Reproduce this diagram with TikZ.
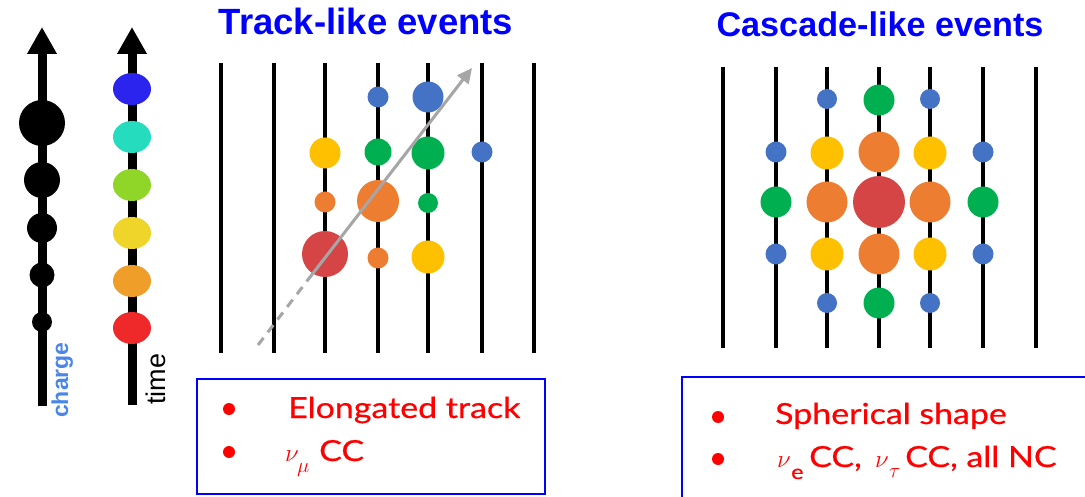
\documentclass[tikz,border=0pt]{standalone}
\usepackage{fontspec}
\setmainfont{Liberation Sans}
\newfontfamily\boxfont[FakeStretch=1.17,FakeBold=0.6]{Lato}
\usetikzlibrary{arrows.meta,shapes.geometric}
\definecolor{cblue}{HTML}{4472C4}
\definecolor{cyel}{HTML}{FFC000}
\definecolor{cgreen}{HTML}{00B050}
\definecolor{corange}{HTML}{ED7D31}
\definecolor{cred}{HTML}{D64545}
\definecolor{tblue}{HTML}{2B24EE}
\definecolor{tcyan}{HTML}{26DCBF}
\definecolor{tgreen}{HTML}{8FD629}
\definecolor{tyel}{HTML}{EFD429}
\definecolor{torange}{HTML}{EF9E2A}
\definecolor{tred}{HTML}{EF2929}
\definecolor{chargeblue}{HTML}{4A86E8}
\definecolor{gline}{HTML}{A6A6A6}
\definecolor{titleblue}{HTML}{0000FF}
\definecolor{txtred}{HTML}{FF0000}
\tikzset{
  dot/.style={circle,inner sep=0pt,outer sep=0pt,draw=none},
  tdot/.style={ellipse,inner sep=0pt,draw=none,minimum width=38pt,minimum height=32pt},
  string/.style={line width=4pt,black},
  axis/.style={line width=9pt,black,-{Triangle[width=28pt,length=27pt]}},
  grayline/.style={line width=3pt,gline},
  title/.style={text=titleblue,font=\bfseries},
  infobox/.style={draw=titleblue,line width=1.6pt},
  bullet/.style={circle,fill=txtred,inner sep=0pt,minimum size=12pt},
  boxtxt/.style={anchor=base west,text=txtred,inner sep=0pt,font=\boxfont\fontsize{29}{32}\selectfont},
  nutxt/.style={anchor=base west,text=txtred,inner sep=0pt,font=\fontsize{29}{32}\selectfont},
  subtxt/.style={anchor=base west,text=txtred,inner sep=0pt,font=\fontsize{20}{22}\selectfont},
}
\begin{document}
\begin{tikzpicture}[x=1pt,y=-1pt]
\useasboundingbox (0,0) rectangle (1085,497);
\clip (0,0) rectangle (1085,497);

% ---------- legend: charge ----------
\coordinate (cbot) at (42,406);
\coordinate (ctop) at (42,27);
\draw[axis] (cbot) -- (ctop);
\foreach \n/\y/\d in {c1/123/46, c2/180/36, c3/228/30, c4/275/25, c5/322/20}
  \node[dot,fill=black,minimum size=\d] (\n) at (42,\y) {};
\node[rotate=90,anchor=base west,inner sep=0pt,text=chargeblue,font=\bfseries\fontsize{23}{26}\selectfont] (chargelbl) at (68,418) {charge};

% ---------- legend: time ----------
\coordinate (tbot) at (132,405);
\coordinate (ttop) at (132,27);
\draw[axis] (tbot) -- (ttop);
\foreach \n/\y/\c in {e1/89/tblue, e2/137/tcyan, e3/185/tgreen, e4/233/tyel, e5/281/torange, e6/328/tred}
  \node[tdot,fill=\c] (\n) at (132,\y) {};
\node[rotate=90,anchor=base west,inner sep=0pt,text=black,font=\fontsize{27}{30}\selectfont] (timelbl) at (165,405) {time};

% ---------- Track-like events ----------
\node[title,font=\bfseries\fontsize{36.5}{40}\selectfont,anchor=base] (ttitle) at (366,35) {Track-like events};
\foreach \x in {221,274,325,378,428,482,534}
  \draw[string] (\x,63) -- (\x,353);
\foreach \n/\x/\y/\d/\c in {
  a1/378/97/21/cblue, a2/428/97/31/cblue,
  a3/325/153/31/cyel, a4/378/152/27/cgreen, a5/428/153/33/cgreen, a6/482/152/21/cblue,
  a7/325/202/21/corange, a8/378/201/42/corange, a9/428/203/20/cgreen,
  a10/325/254/46/cred, a11/378/258/21/corange, a12/428/257/33/cyel}
  \node[dot,fill=\c,minimum size=\d] (\n) at (\x,\y) {};
\coordinate (g0) at (258,345);
\coordinate (g1) at (307,281);
\coordinate (g2) at (472,68);
\draw[grayline,dash pattern=on 9pt off 7pt] (g0) -- (g1);
\draw[grayline,-{Triangle[width=14pt,length=15pt]}] (g1) -- (g2);

% ---------- Cascade-like events ----------
\node[title,font=\bfseries\fontsize{34.2}{38}\selectfont,anchor=base] (ctitle) at (880,37) {Cascade-like events};
\foreach \x in {723,776,827,879,930,983,1036}
  \draw[string] (\x,67) -- (\x,348);
\foreach \n/\x/\y/\d/\c in {
  b1/827/99/20/cblue, b2/879/100/31/cgreen, b3/930/99/20/cblue,
  b4/776/152/21/cblue, b5/827/153/33/cyel, b6/879/152/41/corange, b7/930/153/33/cyel, b8/983/152/21/cblue,
  b9/776/202/31/cgreen, b10/827/202/41/corange, b12/930/202/41/corange, b13/983/202/31/cgreen,
  b14/776/254/21/cblue, b15/827/254/33/cyel, b16/879/254/41/corange, b17/930/254/33/cyel, b18/983/254/21/cblue,
  b19/827/303/20/cblue, b20/879/303/31/cgreen, b21/930/303/20/cblue}
  \node[dot,fill=\c,minimum size=\d] (\n) at (\x,\y) {};
\node[dot,fill=cred,minimum size=52] (b11) at (879,202) {};

% ---------- info boxes ----------
\draw[infobox] (197,379) rectangle (545,494);
\node[bullet] (lb1) at (229,409) {};
\node[bullet] (lb2) at (229,452) {};
\node[boxtxt] (lt1) at (288,418) {Elongated track};
\node[nutxt] (lnu) at (285,461) {$\nu$};
\node[subtxt] (lmu) at (297,472) {$\mu$};
\node[boxtxt] (lcc) at (319,461) {CC};

\draw[infobox] (682,377) rectangle (1095,510);
\node[bullet] (rb1) at (718,417) {};
\node[bullet] (rb2) at (718,459) {};
\node[boxtxt] (rt1) at (775,424) {Spherical shape};
\node[nutxt] (rnu1) at (777,467) {$\nu$};
\node[subtxt,font=\boxfont\fontsize{20}{22}\selectfont] (re) at (791,479) {e};
\node[boxtxt] (rcc1) at (809,467) {CC,};
\node[nutxt] (rnu2) at (875,467) {$\nu$};
\node[subtxt] (rtau) at (889,477) {$\tau$};
\node[boxtxt] (rcc2) at (905,467) {CC, all NC};
\end{tikzpicture}
\end{document}
